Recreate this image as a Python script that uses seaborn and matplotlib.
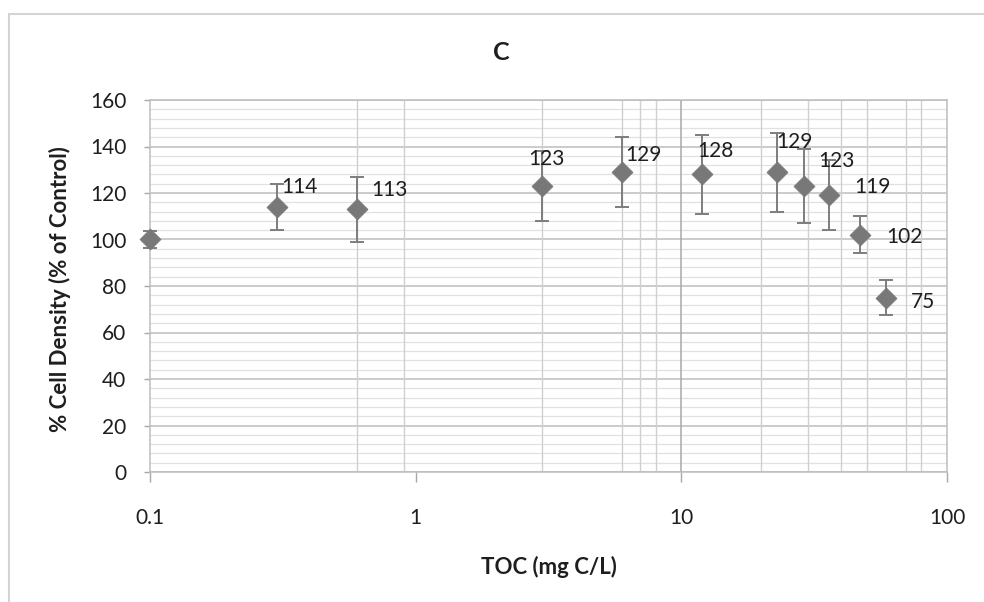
import matplotlib
matplotlib.use("Agg")
import matplotlib.pyplot as plt
import matplotlib.ticker as mticker
from matplotlib.patches import Rectangle
import seaborn as sns
import pandas as pd

# Dose-response data: TOC concentration vs. cell density
toc = [0.1, 0.3, 0.6, 3, 6, 12, 23, 29, 36, 47, 59]
density = [100, 114, 113, 123, 129, 128, 129, 123, 119, 102, 75]
density_err = [3.5, 10, 14, 15, 15, 17, 17, 16, 15, 8, 7.5]
point_labels = ["", "114", "113", "123", "129", "128", "129", "123", "119", "102", "75"]

y_ticks = [0, 20, 40, 60, 80, 100, 120, 140, 160]
x_ticks = [0.1, 1, 10, 100]
x_tick_labels = ["0.1", "1", "10", "100"]

# Label placement (pixel offsets from each point)
label_offsets = [(0, 0), (5, 20), (15, 19), (-14, 27), (3, 17), (-5, 23),
                 (-1, 30), (14, 25), (25, 8), (26, -2), (25, -4)]
# Vertical grid positions along the log axis
grid_x_minor = [0.6, 0.9, 3, 6, 7, 8, 20, 30, 40, 50, 70, 80]
grid_x_major = [10]

df = pd.DataFrame({"toc": toc, "density": density, "err": density_err})

sns.set_theme(style="white")
plt.rcParams["font.family"] = ["Lato", "DejaVu Sans"]

W, H = 984, 602
fig = plt.figure(figsize=(W / 100, H / 100), dpi=100)
ax = fig.add_axes([150 / W, 1 - 472 / H, (947 - 150) / W, (472 - 100) / H])

# Chart frame
fig.patches.append(Rectangle((9 / W, -0.05), 1.2, 1 - 14 / H + 0.05,
                             transform=fig.transFigure, fill=False,
                             edgecolor="#d4d4d4", linewidth=1.5, zorder=0))

ax.set_xscale("log")
ax.set_xlim(0.1, 100)
ax.set_ylim(0, 160)

# Horizontal grid: major every 20, minor every 4
for y in range(0, 161, 4):
    if y % 20 == 0:
        ax.axhline(y, color="#bdbdbd", linewidth=1.1, zorder=0)
    else:
        ax.axhline(y, color="#e1e1e1", linewidth=0.9, zorder=0)
for xv in grid_x_minor:
    ax.axvline(xv, color="#d0d0d0", linewidth=1.0, zorder=0)
for xv in grid_x_major:
    ax.axvline(xv, color="#a8a8a8", linewidth=1.1, zorder=0)

eb = ax.errorbar(df["toc"], df["density"], yerr=df["err"], fmt="none",
                 ecolor="#7d7d7d", elinewidth=1.4, capsize=5, capthick=1.4, zorder=2)
for art in eb.lines[1] + eb.lines[2]:
    art.set_clip_on(False)
sns.scatterplot(data=df, x="toc", y="density", marker="D", s=115,
                color="#787878", edgecolor="#787878", linewidth=0.5,
                ax=ax, zorder=3, clip_on=False)

for xv, yv, lab, (dx, dy) in zip(toc, density, point_labels, label_offsets):
    if lab:
        ax.annotate(lab, (xv, yv), xytext=(dx, dy), textcoords="offset pixels",
                    ha="left", va="center", fontsize=15, color="#1e1e1e", zorder=4)

ax.set_xticks(x_ticks)
ax.set_xticklabels(x_tick_labels)
ax.xaxis.set_minor_locator(mticker.NullLocator())
ax.set_yticks(y_ticks)
ax.set_yticklabels([str(v) for v in y_ticks])
ax.tick_params(axis="x", length=7, width=1, color="#a8a8a8", pad=19,
               labelsize=15, labelcolor="#1e1e1e", bottom=True, direction="out")
ax.tick_params(axis="y", length=4, width=1, color="#a8a8a8", pad=13,
               labelsize=15, labelcolor="#1e1e1e", left=True, direction="out")

for side in ["left", "bottom", "right", "top"]:
    ax.spines[side].set_visible(True)
    ax.spines[side].set_color("#bdbdbd")
    ax.spines[side].set_linewidth(1.1)

ax.set_xlabel("")
ax.set_ylabel("")
fig.text(549 / W, 1 - 567 / H, "TOC (mg C/L)", ha="center", va="center",
         fontsize=16, fontweight="bold", color="#1e1e1e")
fig.text(60 / W, 1 - 289 / H, "% Cell Density (% of Control)", ha="center",
         va="center", rotation=90, fontsize=16, fontweight="bold", color="#1e1e1e")
fig.text(501 / W, 1 - 53 / H, "C", ha="center", va="center",
         fontsize=18, fontweight="bold", color="#1e1e1e")

fig.savefig("out.png", dpi=100, facecolor="white")
